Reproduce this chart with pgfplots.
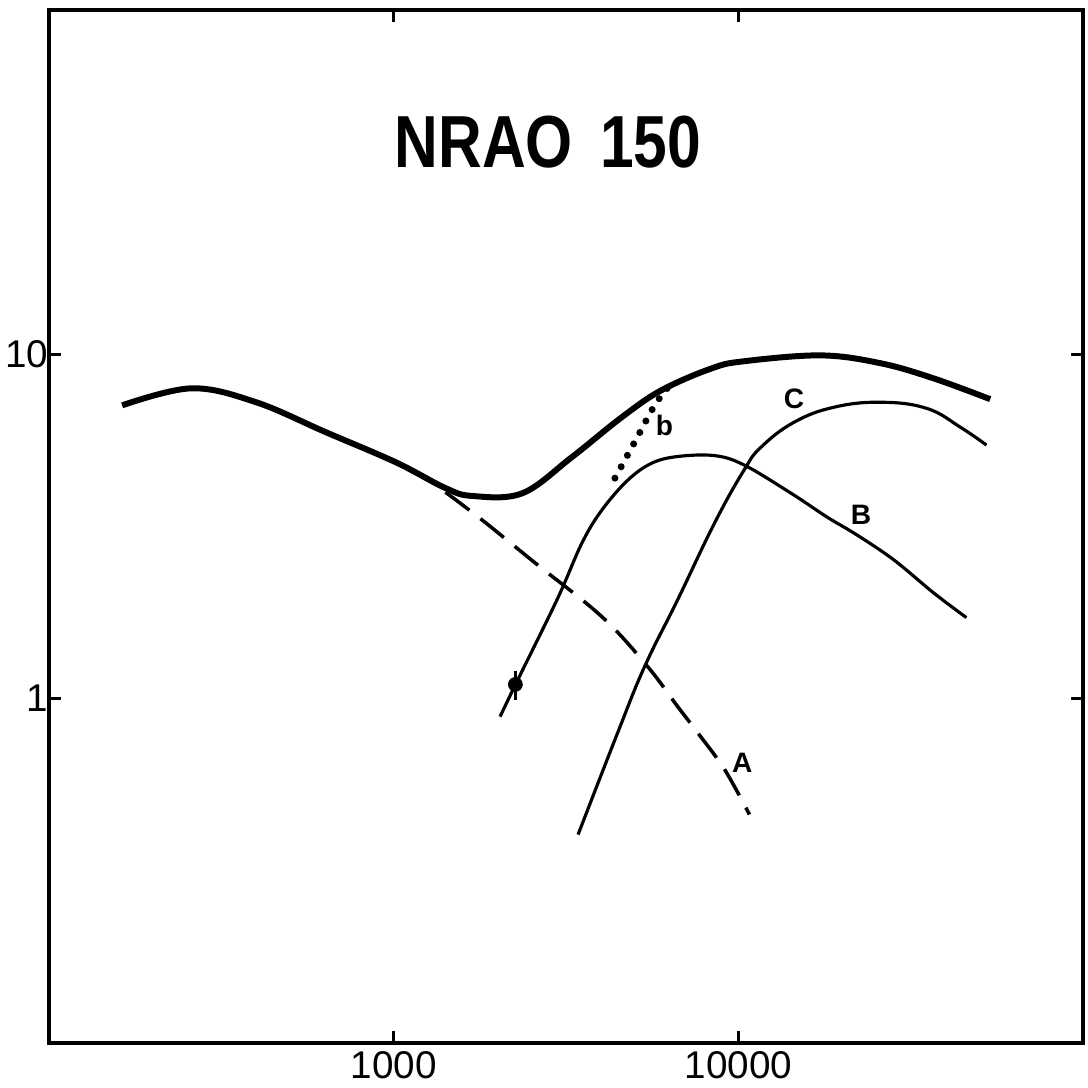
\documentclass[border=0pt]{standalone}
\usepackage{fontspec}
\setmainfont{Liberation Sans}
\usepackage{pgfplots}
\pgfplotsset{compat=1.18}
\begin{document}
\begin{tikzpicture}
\begin{axis}[
  scale only axis,
  width=103.4mm, height=103.3mm,
  xmode=log, ymode=log,
  xmin=100, xmax=100000, ymin=0.1, ymax=100,
  axis line style={line width=1.4pt},
  xtick={1000,10000}, xticklabels={1000,10000},
  ytick={1,10}, yticklabels={1,10},
  xminorticks=false, yminorticks=false,
  major tick length=1.2mm,
  tick style={line width=0.9pt, black},
  tick label style={font=\fontsize{11}{13}\selectfont},
  yticklabel style={inner xsep=0pt},
  xticklabel style={inner ysep=0.8mm},
  /pgf/number format/assume math mode=true,
  clip=false,
]
% total spectrum (thick)
\addplot[black, line width=1.7pt, smooth, tension=0.6] coordinates {
 (163,7.11) (259,7.97) (399,7.26) (636,5.94) (1014,4.86) (1413,4.09)
 (1692,3.88) (2361,3.95) (3289,5.03) (4592,6.57) (5986,7.87) (8356,9.10)
 (10400,9.55) (17380,9.93) (25900,9.42) (36800,8.52) (53800,7.41)
};
% component A (dashed)
\addplot[black, line width=1pt, dash pattern=on 3mm off 1.4mm, smooth, tension=0.6] coordinates {
 (1413,3.98) (1808,3.30) (2571,2.48) (4018,1.73) (5454,1.24) (6671,0.948)
 (7621,0.797) (9120,0.623) (10770,0.461)
};
% component B
\addplot[black, line width=0.9pt, smooth, tension=0.6] coordinates {
 (2036,0.887) (2255,1.098) (2979,1.94) (3517,2.83) (4018,3.53) (4777,4.31)
 (5608,4.83) (6671,5.05) (8535,5.08) (10400,4.77) (14230,3.95) (18080,3.37)
 (22070,2.99) (28250,2.53) (36840,2.03) (45880,1.72)
};
% component C
\addplot[black, line width=0.9pt, smooth, tension=0.7] coordinates {
 (3428,0.403) (4467,0.797) (5348,1.24) (6671,1.94) (8535,3.24)
 (10400,4.62) (11650,5.38) (14510,6.35) (18930,7.02) (25880,7.26)
 (35170,6.97) (44110,6.14) (52480,5.45)
};
% component b (dotted)
\addplot[black, line width=2pt, line cap=round, dash pattern=on 0pt off 1.3mm, smooth] coordinates {
 (4385,4.37) (5036,5.63) (5716,7.11) (6324,8.13)
};
% measured point
\addplot[black, only marks, mark=*, mark size=1.9pt] coordinates {(2255,1.10)};
\addplot[black, line width=0.9pt] coordinates {(2255,0.99) (2255,1.20)};
% labels
\node[font=\fontsize{21}{25}\selectfont\bfseries, xscale=0.82] at (axis cs:2805,41.4) {NRAO\hspace{0.45em}150};
\node[font=\fontsize{8}{9}\selectfont\bfseries] at (axis cs:10270,0.652) {A};
\node[font=\fontsize{8}{9}\selectfont\bfseries] at (axis cs:22700,3.41) {B};
\node[font=\fontsize{8}{9}\selectfont\bfseries] at (axis cs:14510,7.45) {C};
\node[font=\fontsize{8}{9}\selectfont\bfseries] at (axis cs:6106,6.22) {b};
\end{axis}
\pgfresetboundingbox
\path[use as bounding box] ([shift={(-4.9mm,-4.4mm)}]current axis.south west) rectangle ([shift={(0.5mm,1.0mm)}]current axis.north east);
\end{tikzpicture}
\end{document}
